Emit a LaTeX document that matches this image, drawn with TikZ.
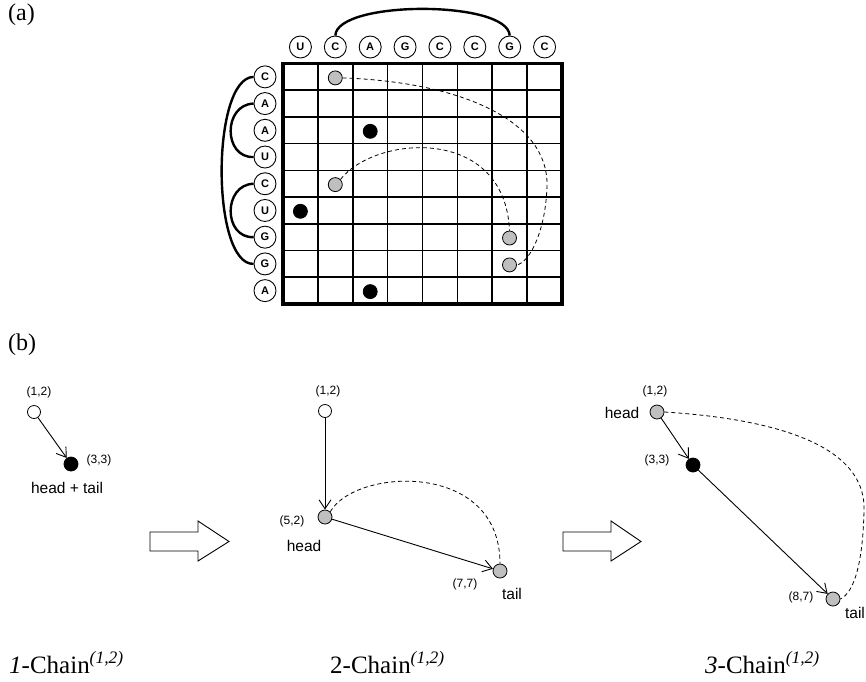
\documentclass[tikz,border=0pt]{standalone}
\usepackage{fontspec}
\setmainfont{Liberation Serif}
\newfontfamily\arialf{Liberation Sans}
\usetikzlibrary{arrows.meta}
\begin{document}
\begin{tikzpicture}[x=1pt,y=-1pt,
  letter/.style={circle,draw,line width=0.9pt,minimum size=22pt,inner sep=0pt,font=\arialf\bfseries\fontsize{11}{11}\selectfont},
  gdot/.style={circle,draw,line width=0.8pt,fill=black!25,minimum size=14pt,inner sep=0pt},
  bdot/.style={circle,draw,line width=0.8pt,fill=black,minimum size=14pt,inner sep=0pt},
  odot/.style={circle,draw,line width=0.8pt,fill=white,minimum size=13pt,inner sep=0pt},
  lbl/.style={font=\arialf\fontsize{12}{12}\selectfont,inner sep=0pt},
  word/.style={font=\arialf\fontsize{15.5}{16}\selectfont,inner sep=0pt},
  pairarc/.style={line width=2.4pt},
  dsh/.style={line width=0.8pt,dash pattern=on 4pt off 3pt},
  chainarrow/.style={-{Straight Barb[length=9pt,width=12pt]},line width=0.9pt},
  bigarrow/.style={draw,line width=0.9pt,fill=white,line join=miter},
  captext/.style={font=\fontsize{25}{28}\selectfont,inner sep=0pt,anchor=base west},
  panel/.style={font=\fontsize{24}{28}\selectfont,inner sep=0pt,anchor=base west}
]
\useasboundingbox (0,0) rectangle (866,681);

% panel labels
\node[panel] (pa) at (8,20) {(a)};
\node[panel] (pb) at (8,350) {(b)};

% grid
\foreach \i in {1,...,7}
  \draw[line width=1.6pt] ({283+\i*34.875},63.5) -- ({283+\i*34.875},304);
\foreach \j in {1,...,8}
  \draw[line width=1.6pt] (283,{63.5+\j*26.72}) -- (562,{63.5+\j*26.72});
\draw[line width=3.2pt] (283,63.5) rectangle (562,304);

% letters
\foreach \l [count=\i] in {U,C,A,G,C,C,G,C}
  \node[letter] (t\i) at ({283+(\i-0.5)*34.875},47) {\l};
\foreach \l [count=\j] in {C,A,A,U,C,U,G,G,A}
  \node[letter] (r\j) at (265,{63.5+(\j-0.5)*26.72}) {\l};

% pairing arcs
\draw[pairarc] (t2.north) .. controls (337,0) and (508,0) .. (t7.north);
\draw[pairarc] (r1.west) .. controls (211,77.9) and (211,264.9) .. (r8.west);
\draw[pairarc] (r2.west) .. controls (223,104.6) and (223,157.9) .. (r4.west);
\draw[pairarc] (r5.west) .. controls (223,184.6) and (223,238) .. (r7.west);

% dots in grid
\node[gdot] (d12) at (335.3,77.9) {};
\node[gdot] (d52) at (335.3,184.6) {};
\node[gdot] (d77) at (509.5,238) {};
\node[gdot] (d87) at (509.5,264.9) {};
\node[bdot] (d33) at (370.2,131.3) {};
\node[bdot] (d61) at (300.4,211.3) {};
\node[bdot] (d93) at (370.2,291.6) {};

\draw[dsh] (d12.east) .. controls (460,82) and (548,120) .. (547,185)
  .. controls (546,230) and (530,262) .. (d87.east);
\draw[dsh] (d52.north east) .. controls (375,135) and (505,125) .. (d77.north);

% ---------- part (b) ----------
% panel 1
\node[odot] (a1) at (34,412) {};
\node[bdot] (b1) at (71,464) {};
\node[lbl] (a1l) at (39,392) {(1,2)};
\node[lbl] (b1l) at (99,460) {(3,3)};
\node[word] (ht1) at (67,488) {head + tail};
\draw[chainarrow] (a1) -- (b1);

% big arrow 1
\draw[bigarrow] (150,532) -- (198,532) -- (198,521) -- (229,541.5) -- (198,561) -- (198,551) -- (150,551) -- cycle;

% panel 2
\node[odot] (a2) at (325,411) {};
\node[gdot] (g2a) at (325,517) {};
\node[gdot] (g2b) at (500,571) {};
\node[lbl] (a2l) at (328,391) {(1,2)};
\node[lbl] (g2al) at (292,521) {(5,2)};
\node[word] (h2) at (304,546) {head};
\node[lbl] (g2bl) at (465,584) {(7,7)};
\node[word] (t2w) at (512,594) {tail};
\draw[chainarrow] (a2) -- (g2a);
\draw[chainarrow] (g2a) -- (g2b);
\draw[dsh] (g2a.north east) .. controls (355,468) and (500,460) .. (g2b.north);

% big arrow 2
\draw[bigarrow] (563,532) -- (611,532) -- (611,521) -- (641,541.5) -- (611,561) -- (611,551) -- (563,551) -- cycle;

% panel 3
\node[gdot] (g3a) at (657,412) {};
\node[bdot] (b3) at (693,465) {};
\node[gdot] (g3b) at (833,599) {};
\node[lbl] (g3al) at (655,391) {(1,2)};
\node[word] (h3) at (622,413) {head};
\node[lbl] (b3l) at (657,460) {(3,3)};
\node[lbl] (g3bl) at (801,597) {(8,7)};
\node[word] (t3w) at (855,613) {tail};
\draw[chainarrow] (g3a) -- (b3);
\draw[chainarrow] (b3) -- (g3b);
\draw[dsh] (g3a.east) .. controls (760,418) and (866,440) .. (864,510)
  .. controls (863,560) and (855,592) .. (g3b.east);

% captions
\node[captext] (c1) at (9,673) {\textit{1}-Chain\textsuperscript{\textit{(1,2)}}};
\node[captext] (c2) at (330,673) {2-Chain\textsuperscript{\textit{(1,2)}}};
\node[captext] (c3) at (705,673) {\textit{3}-Chain\textsuperscript{\textit{(1,2)}}};
\end{tikzpicture}
\end{document}
